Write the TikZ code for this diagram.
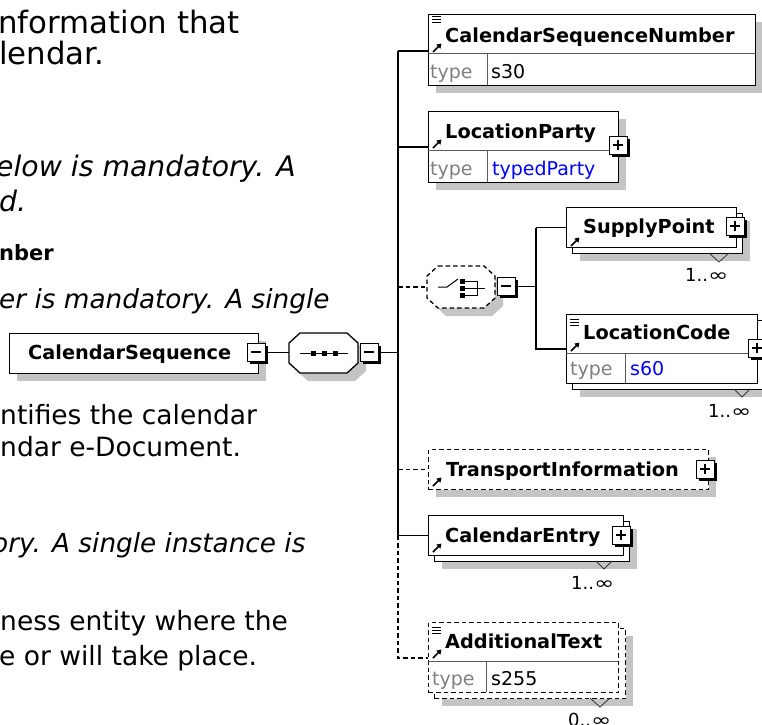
\documentclass[tikz,border=0pt]{standalone}
\usepackage{fontspec}
\setmainfont{DejaVu Sans}
\usetikzlibrary{arrows.meta}
\definecolor{shd}{RGB}{196,196,196}
\definecolor{tgray}{RGB}{128,128,128}
\definecolor{tblue}{RGB}{0,0,255}
\definecolor{sepc}{RGB}{90,90,90}
\tikzset{
  ln/.style={line width=1.3pt},
  dln/.style={line width=1.3pt, dash pattern=on 4.5pt off 3pt},
  ebox/.style={draw, line width=1.3pt, fill=white, inner sep=0pt, anchor=north west},
  debox/.style={ebox, dash pattern=on 4.5pt off 3pt},
  sepln/.style={line width=0.9pt, draw=sepc},
  pmsq/.style={draw, line width=1.2pt, fill=white, inner sep=0pt, minimum size=18pt, anchor=north west},
  doc/.style={anchor=base west, inner sep=0pt, font=\fontsize{26.5}{30}\selectfont},
  dochead/.style={anchor=base west, inner sep=0pt, font=\fontsize{30.8}{32}\selectfont},
  docit/.style={anchor=base west, inner sep=0pt, font=\fontsize{26.3}{30}\selectfont\itshape},
  docbf/.style={anchor=base west, inner sep=0pt, font=\fontsize{21}{24}\selectfont\bfseries},
  nm/.style={anchor=base west, inner sep=0pt, font=\fontsize{19.3}{22}\selectfont\bfseries},
  tylab/.style={anchor=base west, inner sep=0pt, font=\fontsize{19}{22}\selectfont, text=tgray},
  tyval/.style={anchor=base west, inner sep=0pt, font=\fontsize{19}{22}\selectfont},
  card/.style={anchor=base west, inner sep=0pt, font=\fontsize{18}{20}\selectfont},
  refarr/.style={line width=1.7pt, -{Triangle[length=4.5pt,width=5.5pt]}},
  iconln/.style={line width=0.9pt},
  vmark/.style={line width=0.8pt, draw=black!80},
}
\newcommand\pmbox[4]{%
  \fill (#2+3,#3+3) rectangle (#2+21,#3+21);
  \node[pmsq] (#1) at (#2,#3) {};
  \draw[line width=1.2pt] (#2+4,#3+9) -- (#2+14,#3+9);
  \ifnum#4=1 \draw[line width=1.2pt] (#2+9,#3+4) -- (#2+9,#3+14);\fi
}
\newcommand\oct[5]{\draw[#1] (#2+11,#3) -- (#4-11,#3) -- (#4,#3+10) -- (#4,#5-10) -- (#4-11,#5) -- (#2+11,#5) -- (#2,#5-10) -- (#2,#3+10) -- cycle;}
\newcommand\refico[2]{\draw[refarr] (#1+1,#2+9) -- (#1+9.5,#2+0.5);}
\newcommand\simpico[2]{\draw[iconln] (#1,#2+1) -- (#1+9,#2+1) (#1,#2+4) -- (#1+9,#2+4) (#1,#2+7) -- (#1+9,#2+7);}
\newcommand\infy{\scalebox{1.35}[1]{∞}}
\begin{document}
\begin{tikzpicture}[x=1pt,y=-1pt]
\useasboundingbox (0,0) rectangle (762,724);
\clip (0,0) rectangle (762,724);

% ---- left documentation text
\node[dochead] (d1) at (-2,33) {nformation that};
\node[dochead] (d2) at (-1,64) {lendar.};
\node[docit, font=\fontsize{28.3}{30}\selectfont\itshape] (d3) at (-4,176) {elow is mandatory. A};
\node[docit, font=\fontsize{28.3}{30}\selectfont\itshape] (d4) at (-1,211) {d.};
\node[docbf] (d5) at (-1,260) {nber};
\node[docit] (d6) at (-1,308) {er is mandatory. A single};
\node[doc] (d7) at (0,424) {ntifies the calendar};
\node[doc] (d8) at (0,456) {ndar e-Document.};
\node[docit] (d9) at (-8,552) {ory. A single instance is};
\node[doc] (d10) at (0,630) {ness entity where the};
\node[doc] (d11) at (-1,665) {e or will take place.};

% ---- shadows
\fill[shd] (17,341) rectangle (266,381);
\oct{fill=shd,draw=none}{297}{341}{366}{381}
\fill[shd] (436,22) rectangle (763,93);
\fill[shd] (436,119) rectangle (626,190);
\oct{fill=shd,draw=none}{435}{274}{503}{316}
\fill[shd] (580,221) rectangle (750,261);
\fill[shd] (580,328) rectangle (771,397);
\fill[shd] (436,457) rectangle (716,497);
\fill[shd] (442,529) rectangle (637,569);
\fill[shd] (442,636) rectangle (633,706);

% ---- back boxes (repeated elements)
\node[ebox, minimum width=170pt, minimum height=40pt] (spb) at (572,213) {};
\node[ebox, minimum width=191pt, minimum height=69pt] (lcb) at (572,320) {};
\node[ebox, minimum width=195pt, minimum height=40pt] (ceb) at (434,521) {};
\node[debox, minimum width=191pt, minimum height=70pt] (atb) at (434,628) {};

% ---- main boxes
\node[ebox, minimum width=249pt, minimum height=40pt] (cs) at (9,333) {};
\oct{ln,fill=white}{289}{333}{358}{373}
\node[inner sep=0pt, minimum width=69pt, minimum height=40pt] (seq) at (323.5,353) {};
\node[ebox, minimum width=327pt, minimum height=71pt] (csn) at (428,14) {};
\node[ebox, minimum width=190pt, minimum height=71pt] (lp) at (428,111) {};
\oct{dln,fill=white}{427}{266}{495}{308}
\node[inner sep=0pt, minimum width=68pt, minimum height=42pt] (cho) at (461,287) {};
\node[ebox, minimum width=170pt, minimum height=40pt] (sp) at (566,207) {};
\node[ebox, minimum width=191pt, minimum height=69pt] (lc) at (566,314) {};
\node[debox, minimum width=280pt, minimum height=40pt] (ti) at (428,449) {};
\node[ebox, minimum width=195pt, minimum height=40pt] (ce) at (428,515) {};
\node[debox, minimum width=190pt, minimum height=70pt] (at) at (428,622) {};

% ---- separators in typed boxes
\draw[sepln] (428,53) -- (755,53) (487,53) -- (487,85);
\draw[sepln] (428,150) -- (618,150) (487,150) -- (487,182);
\draw[sepln] (566,353) -- (757,353) (625,353) -- (625,383);
\draw[sepln] (428,661) -- (618,661) (486,661) -- (486,692);

% ---- plus / minus boxes
\pmbox{csm}{247}{343}{0}
\pmbox{seqm}{360}{343}{0}
\pmbox{lpp}{609}{136}{1}
\pmbox{chm}{497}{277}{0}
\pmbox{spp}{726}{217}{1}
\pmbox{lcp}{748}{339}{1}
\pmbox{tip}{696}{460}{1}
\pmbox{cep}{612}{526}{1}

% ---- connectors
\coordinate (bus) at (398,0);
\coordinate (bus2) at (536,0);
\coordinate (jcsn) at (428,51);
\coordinate (jlp) at (428,147);
\coordinate (jlc) at (566,349);
\coordinate (jat) at (428,658);
\draw[ln] (csm.east) -- (csm.east -| seq.west);
\draw[ln] (seqm.east) -- (seqm.east -| bus);
\draw[ln] (jcsn -| bus) -- (ce.west -| bus);
\draw[dln] (ce.west -| bus) -- (jat -| bus) -- (jat);
\draw[ln] (jcsn -| bus) -- (jcsn);
\draw[ln] (jlp -| bus) -- (jlp);
\draw[dln] (cho.west -| bus) -- (cho.west);
\draw[dln] (ti.west -| bus) -- (ti.west);
\draw[ln] (ce.west -| bus) -- (ce.west);
\draw[ln] (chm.east) -- (chm.east -| bus2);
\draw[ln] (sp.west -| bus2) -- (jlc -| bus2) -- (jlc);
\draw[ln] (sp.west -| bus2) -- (sp.west);

% ---- compositor icons
\draw[line width=1pt] (300,353) -- (348,353);
\foreach \q in {313,324,335} \fill (\q-2.5,350.5) rectangle (\q+2.5,355.5);
\draw[line width=1pt] (438,287) -- (447,287) -- (458,279);
\foreach \q in {281,288,295} \fill (460,\q-2.5) rectangle (465,\q+2.5);
\draw[line width=1pt] (465,281) -- (477,281) -- (477,295) -- (465,295) (465,288) -- (485,288);

% ---- element icons
\simpico{432}{15}
\simpico{570}{318}
\simpico{432}{626}
\refico{432}{43}
\refico{432}{139}
\refico{570}{237}
\refico{570}{342}
\refico{432}{477}
\refico{432}{543}
\refico{432}{649}

% ---- occurrence markers
\draw[vmark] (709,253) -- (719,262) -- (729,253);
\draw[vmark] (734,389) -- (742,397) -- (750,389);
\draw[vmark] (596,561) -- (604,569) -- (612,561);
\draw[vmark] (590,698) -- (600,707) -- (610,698);

% ---- element names
\node[nm] (tcs) at (28,359) {CalendarSequence};
\node[nm] (tcsn) at (445,42) {CalendarSequenceNumber};
\node[nm] (tlp) at (445,138) {LocationParty};
\node[nm] (tsp) at (583,233) {SupplyPoint};
\node[nm] (tlc) at (583,339) {LocationCode};
\node[nm] (tti) at (446,476) {TransportInformation};
\node[nm] (tce) at (445,542) {CalendarEntry};
\node[nm] (tat) at (445,648) {AdditionalText};

% ---- types
\node[tylab] (y1) at (430,78) {type};
\node[tyval] (v1) at (491,78) {s30};
\node[tylab] (y2) at (430,175) {type};
\node[tyval, text=tblue] (v2) at (492,175) {typedParty};
\node[tylab] (y3) at (570,375) {type};
\node[tyval, text=tblue] (v3) at (630,375) {s60};
\node[tylab] (y4) at (432,685) {type};
\node[tyval] (v4) at (491,685) {s255};

% ---- cardinalities
\node[card] (c1) at (685,281) {1..\infy};
\node[card] (c2) at (708,417) {1..\infy};
\node[card] (c3) at (571,589) {1..\infy};
\node[card] (c4) at (568,726) {0..\infy};
\end{tikzpicture}
\end{document}
